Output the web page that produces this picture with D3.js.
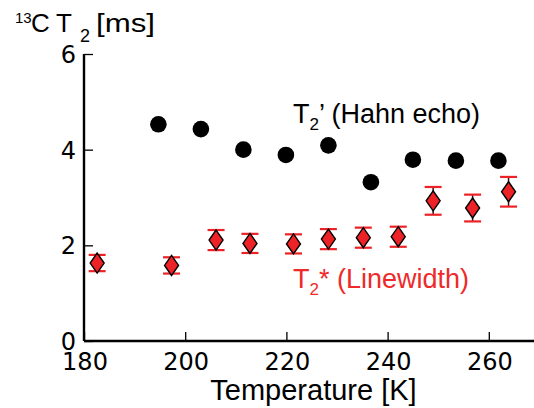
<!DOCTYPE html>
<html><head><meta charset="utf-8">
<script src="https://cdn.jsdelivr.net/npm/d3@7/dist/d3.min.js"></script>
<style>html,body{margin:0;padding:0;background:#fff;overflow:hidden}</style>
</head><body>
<svg id="c" width="534" height="408"></svg>
<script>
// Data
const hahnT = [194.7, 203.1, 211.5, 219.9, 228.3, 236.7, 245.0, 253.5, 261.9];
const hahnT2 = [4.53, 4.43, 4.00, 3.89, 4.09, 3.32, 3.79, 3.77, 3.77];
const lwT = [182.6, 197.3, 206.1, 212.8, 221.4, 228.3, 235.2, 242.1, 249.0, 256.8, 263.9];
const lwT2 = [1.63, 1.58, 2.11, 2.04, 2.03, 2.13, 2.16, 2.18, 2.93, 2.78, 3.12];
const lwErr = [0.17, 0.17, 0.21, 0.20, 0.20, 0.21, 0.21, 0.21, 0.29, 0.28, 0.31];
const xTicks = [180, 200, 220, 240, 260];
const yTicks = [0, 2, 4, 6];

const svg = d3.select("#c");
const x = d3.scaleLinear().domain([180, 270]).range([84, 539.4]);
const y = d3.scaleLinear().domain([0, 6]).range([341, 54]);
const RED = "#ec2227";
const SANS = "Liberation Sans, Arial, sans-serif";

// axes
const xAxis = svg.append("g").attr("transform", `translate(0,${y(0)})`)
  .call(d3.axisTop(x).tickValues(xTicks).tickSize(9).tickFormat(""));
xAxis.select(".domain").attr("d", `M${x(180)},0H${x(270)}`).attr("stroke", "#000").attr("stroke-width", 2.4);
xAxis.selectAll(".tick line").attr("stroke", "#000").attr("stroke-width", 1.3);

const yAxis = svg.append("g").attr("transform", `translate(${x(180)},0)`)
  .call(d3.axisRight(y).tickValues(yTicks).tickSize(9).tickFormat(""));
yAxis.select(".domain").attr("d", `M0,${y(6)}V${y(0)}`).attr("stroke", "#000").attr("stroke-width", 2.4);
yAxis.selectAll(".tick line").attr("stroke", "#000").attr("stroke-width", 1.3);

// tick labels
svg.append("g").selectAll("text").data(xTicks).join("text")
  .attr("x", d => x(d) + 1).attr("y", 370)
  .attr("text-anchor", "middle")
  .attr("font-family", "DejaVu Sans").attr("font-size", 24)
  .text(d => d);
svg.append("g").selectAll("text").data(yTicks).join("text")
  .attr("x", 76).attr("y", d => y(d) + 9)
  .attr("text-anchor", "end")
  .attr("font-family", "DejaVu Sans").attr("font-size", 24)
  .text(d => d);

// axis titles
svg.append("text").attr("x", 313.5).attr("y", 400).attr("text-anchor", "middle")
  .attr("font-family", SANS).attr("font-size", 29)
  .text("Temperature [K]");

const t = svg.append("text").attr("y", 32)
  .attr("font-family", SANS).attr("font-size", 26);
t.append("tspan").attr("x", 15).attr("y", 23).attr("font-size", 15).text("13");
t.append("tspan").attr("x", 31).attr("y", 32).text("C");
t.append("tspan").attr("x", 56).attr("y", 32).text("T");
t.append("tspan").attr("x", 80).attr("y", 41.5).attr("font-size", 18).text("2");
t.append("tspan").attr("x", 96).attr("y", 32).attr("textLength", 59).attr("lengthAdjust", "spacingAndGlyphs").text("[ms]");

// error bars
const eb = svg.append("g");
lwT.forEach((d, i) => {
  const cx = x(d), y1 = y(lwT2[i] + lwErr[i]), y0 = y(lwT2[i] - lwErr[i]);
  eb.append("line").attr("x1", cx).attr("x2", cx).attr("y1", y1).attr("y2", y0)
    .attr("stroke", "#3a1010").attr("stroke-width", 1.5);
  [y1, y0].forEach(yy => eb.append("line").attr("x1", cx - 8.5).attr("x2", cx + 8.5)
    .attr("y1", yy).attr("y2", yy).attr("stroke", RED).attr("stroke-width", 2.2));
});

// diamonds
svg.append("g").selectAll("path").data(lwT).join("path")
  .attr("d", (d, i) => {
    const cx = x(d), cy = y(lwT2[i]);
    return `M${cx},${cy - 10}L${cx + 7},${cy}L${cx},${cy + 10}L${cx - 7},${cy}Z`;
  })
  .attr("fill", RED).attr("stroke", "#000").attr("stroke-width", 1.4);

// circles
svg.append("g").selectAll("circle").data(hahnT).join("circle")
  .attr("cx", d => x(d)).attr("cy", (d, i) => y(hahnT2[i])).attr("r", 8.3)
  .attr("fill", "#000");

// legend labels
const l1 = svg.append("text").attr("x", 293).attr("y", 123)
  .attr("font-family", SANS).attr("font-size", 27);
l1.append("tspan").text("T");
l1.append("tspan").attr("font-size", 17).attr("dy", 7).text("2");
l1.append("tspan").attr("dy", -7).text("’ (Hahn echo)");

const l2 = svg.append("text").attr("x", 293).attr("y", 288).attr("fill", "#ee2a2a")
  .attr("font-family", SANS).attr("font-size", 27);
l2.append("tspan").text("T");
l2.append("tspan").attr("font-size", 17).attr("dy", 7).text("2");
l2.append("tspan").attr("dy", -7).text("* (Linewidth)");
</script>
</body></html>
